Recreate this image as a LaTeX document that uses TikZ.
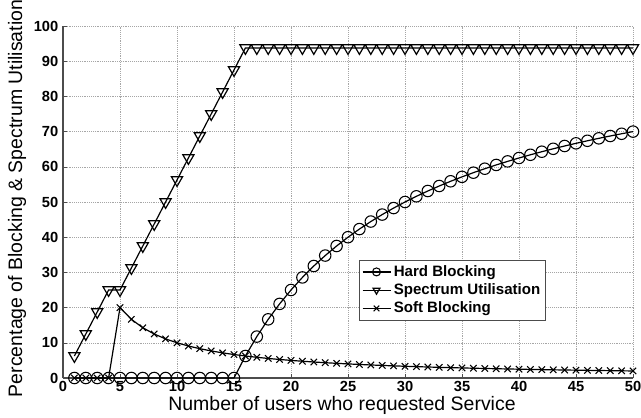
\documentclass[tikz,border=0pt]{standalone}
\usepackage{fontspec}
\setmainfont{Liberation Sans}
\usepackage{pgfplots}
\pgfplotsset{compat=1.18}
\usetikzlibrary{positioning}

\pgfplotsset{
  curve/.style={black, line width=0.9pt, mark size=4.3pt, mark options={solid, line width=0.8pt}},
  boldtick/.style={font=\fontsize{11}{12}\selectfont\bfseries},
}

\begin{document}
\begin{tikzpicture}[x=0.75pt,y=0.75pt]
  \useasboundingbox (0,0) rectangle (641,417);
  \begin{axis}[
      at={(47.25pt,29.25pt)}, anchor=south west,
      scale only axis, width=427.5pt, height=264pt,
      xmin=0, xmax=50, ymin=0, ymax=100,
      xtick={0,5,...,50}, ytick={0,10,...,100},
      axis x line*=bottom, axis y line*=left,
      axis line style={gray!60!black, line width=0.8pt},
      tick align=inside, major tick length=3pt,
      tick style={gray!60!black},
      grid=major, major grid style={densely dotted, gray!70},
      xticklabel={\pgfmathprintnumber[assume math mode=true]{\tick}},
      yticklabel={\pgfmathprintnumber[assume math mode=true]{\tick}},
      ticklabel style={boldtick},
      xticklabel style={yshift=1pt},
      legend cell align=left,
      legend image code/.code={%
        \draw[mark repeat=2, mark phase=2, #1, mark size=3pt]
          plot coordinates {(0pt,0pt) (10.5pt,0pt) (21pt,0pt)};},
      legend style={at={(rel axis cs:0.519,0.336)}, anchor=north west,
        draw=gray!60!black, line width=0.6pt, inner sep=2pt, row sep=0pt,
        font=\fontsize{11.3}{12}\selectfont\bfseries},
    ]
    % hard blocking
    \addplot[curve, mark=o, samples at={1,...,50}]
      {x<15.5 ? 0 : 100*(x-15)/x};
    \addlegendentry{Hard Blocking}
    % spectrum utilisation
    \addplot[curve, mark=triangle, mark size=4.8pt, mark options={rotate=180}, samples at={1,...,50}]
      {x<4.5 ? 6.25*x : min(6.25*(x-1),93.75)};
    \addlegendentry{Spectrum Utilisation}
    % soft blocking
    \addplot[curve, mark=x, mark size=3.4pt, samples at={1,...,50}]
      {x<4.5 ? 0 : 100/x};
    \addlegendentry{Soft Blocking}
  \end{axis}
  \node[font=\fontsize{14.6}{16}\selectfont] (xlab) at (342,12) {Number of users who requested Service};
  \node[font=\fontsize{14.6}{16}\selectfont, rotate=90] (ylab) at (17,218.5) {Percentage of Blocking \& Spectrum Utilisation};
\end{tikzpicture}
\end{document}
